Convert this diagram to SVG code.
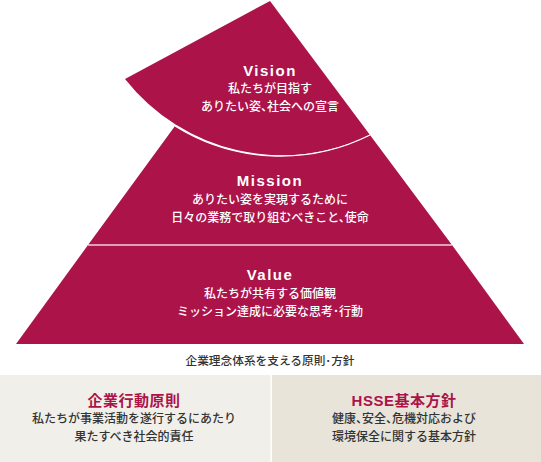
<svg xmlns="http://www.w3.org/2000/svg" width="541" height="462" viewBox="0 0 541 462">
  <style>
    .tier { fill: #ab1349; }
    .divider { fill: none; stroke: #ffffff; stroke-width: 1.3; }
    .ttl { font-family: "Liberation Sans", Arial, sans-serif; font-weight: bold; font-size: 15px; fill: #ffffff; letter-spacing: 1.5px; text-anchor: middle; }
    .jp { font-family: "Noto Sans CJK JP", sans-serif; font-size: 12px; font-weight: 500; fill: #ffffff; text-anchor: middle; font-feature-settings: "halt"; }
    .cap { font-family: "Noto Sans CJK JP", sans-serif; font-size: 11.7px; font-weight: 500; fill: #333333; text-anchor: middle; font-feature-settings: "halt"; }
    .bttl { font-family: "Liberation Sans", "Noto Sans CJK JP", sans-serif; font-weight: bold; font-size: 15px; fill: #ab1349; letter-spacing: 0.5px; text-anchor: middle; }
    .body { font-family: "Noto Sans CJK JP", sans-serif; font-size: 12px; font-weight: 500; fill: #333333; text-anchor: middle; font-feature-settings: "halt"; }
  </style>

  <g id="value">
    <path class="tier" d="M88,245 L452,245 L524,344 L16,344 Z"/>
    <text class="ttl" x="270" y="280">Value</text>
    <text class="jp" x="270" y="297.5">私たちが共有する価値観</text>
    <text class="jp" x="270" y="315.5">ミッション達成に必要な思考･行動</text>
  </g>

  <g id="mission">
    <path class="tier" d="M175,126 A200,200 0 0,0 370,135 L452,245 L88,245 Z"/>
    <text class="ttl" x="270" y="186">Mission</text>
    <text class="jp" x="270" y="203.5">ありたい姿を実現するために</text>
    <text class="jp" x="270" y="221.5">日々の業務で取り組むべきこと、使命</text>
  </g>

  <g id="vision">
    <path class="tier" d="M270,1 L370,135 A200,200 0 0,1 125,79 Z"/>
    <text class="ttl" x="270" y="76">Vision</text>
    <text class="jp" x="270" y="93">私たちが目指す</text>
    <text class="jp" x="270" y="111">ありたい姿、社会への宣言</text>
  </g>

  <g id="connectors">
    <path class="divider" d="M175,126 A200,200 0 0,0 370,135"/>
    <path class="divider" d="M88,245 L452,245" stroke-opacity="0.8"/>
  </g>

  <g id="caption">
    <text class="cap" x="270" y="365">企業理念体系を支える原則･方針</text>
  </g>

  <g id="box-principles">
    <rect x="0" y="375" width="270.5" height="87" fill="#f1efea"/>
    <text class="bttl" x="134" y="405.5">企業行動原則</text>
    <text class="body" x="134" y="422.5">私たちが事業活動を遂行するにあたり</text>
    <text class="body" x="134" y="440.5">果たすべき社会的責任</text>
  </g>

  <g id="box-hsse">
    <rect x="272" y="375" width="269" height="87" fill="#e8e4da"/>
    <text class="bttl" x="404" y="405.5">HSSE基本方針</text>
    <text class="body" x="404" y="422.5">健康、安全、危機対応および</text>
    <text class="body" x="404" y="440.5">環境保全に関する基本方針</text>
  </g>
</svg>
